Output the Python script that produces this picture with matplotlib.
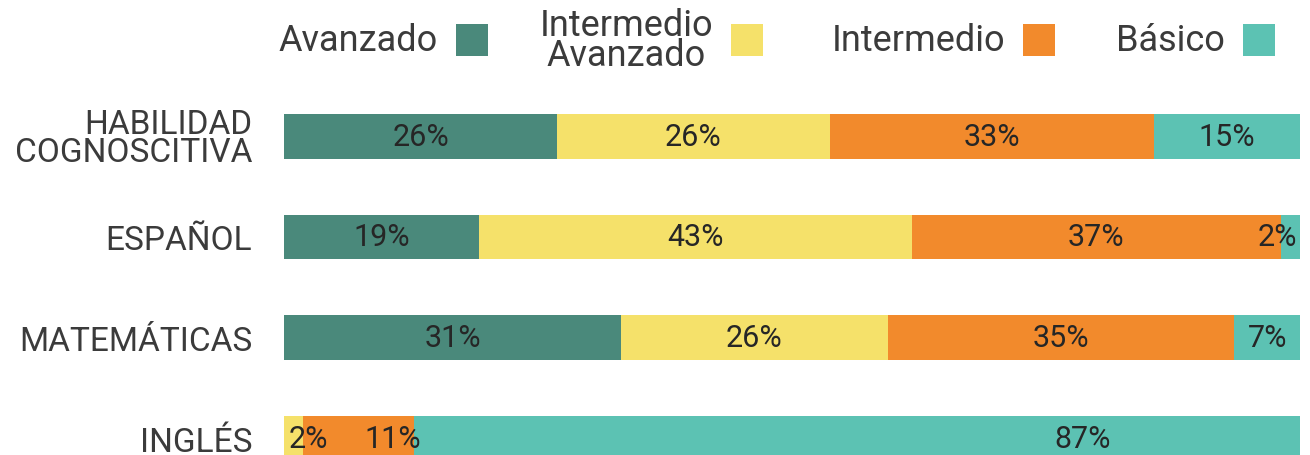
"""
Stacked horizontal bars: nivel de desempeño por área.
"""
import matplotlib
matplotlib.use("Agg")
import matplotlib.pyplot as plt
from matplotlib.patches import Rectangle
import numpy as np

plt.rcParams["font.family"] = ["Roboto", "DejaVu Sans"]

# ── data ──────────────────────────────────────────────────────────────────────
CATEGORIES = ["HABILIDAD\nCOGNOSCITIVA", "ESPAÑOL", "MATEMÁTICAS", "INGLÉS"]
LEVELS     = ["Avanzado", "Intermedio\nAvanzado", "Intermedio", "Básico"]
COLORS     = ["#4A897B", "#F5E16A", "#F28A2C", "#5CC2B3"]

# segment widths (% of bar) per level, one entry per category
avanzado      = [26.9, 19.2, 33.2, 0.0]
inter_avanz   = [26.8, 42.6, 26.2, 1.9]
intermedio    = [31.9, 36.3, 34.1, 10.9]
basico        = [14.4, 1.9, 6.6, 87.2]

# printed labels (as they appear on the chart)
lbl_avanzado    = ["26%", "19%", "31%", ""]
lbl_inter_avanz = ["26%", "43%", "26%", "2%"]
lbl_intermedio  = ["33%", "37%", "35%", "11%"]
lbl_basico      = ["15%", "2%", "7%", "87%"]

SERIES = [avanzado, inter_avanz, intermedio, basico]
LABELS = [lbl_avanzado, lbl_inter_avanz, lbl_intermedio, lbl_basico]

TEXT_COLOR  = "#3b3b3b"
VALUE_COLOR = "#262626"

# ── figure ────────────────────────────────────────────────────────────────────
W, H = 1310, 456
fig = plt.figure(figsize=(W / 100, H / 100), dpi=100)
ax = fig.add_axes([284 / W, 0.0, (1300 - 284) / W, 1 - 100 / H])

y = np.arange(len(CATEGORIES))
left = np.zeros(len(CATEGORIES))
for vals, lbls, color in zip(SERIES, LABELS, COLORS):
    vals = np.array(vals)
    ax.barh(y, vals, left=left, height=0.438, color=color, linewidth=0)
    for i, (v, lab) in enumerate(zip(vals, lbls)):
        if not lab:
            continue
        cx = left[i] + v / 2
        ha = "center"
        dx = 0
        if v < 5:
            # narrow segment: keep the label inside the plot area
            if left[i] + v > 98:
                cx, ha, dx = 100, "right", -3
            else:
                cx, ha, dx = left[i], "left", 5
        elif i == 3 and v < 20:
            dx = 34
        elif i == 3:
            dx = 226
        ax.annotate(lab, (cx, y[i]), xytext=(dx, 0), textcoords="offset pixels",
                    ha=ha, va="center", fontsize=22, color=VALUE_COLOR)
    left += vals

ax.set_xlim(0, 100)
ax.set_ylim(3.169, -0.373)
ax.set_yticks(y)
ax.set_yticklabels(CATEGORIES, fontsize=24, color=TEXT_COLOR, linespacing=0.85)
ax.tick_params(axis="y", length=0, pad=23)
ax.set_xticks([])
for s in ax.spines.values():
    s.set_visible(False)

# ── legend (text to the left of each swatch) ─────────────────────────────────
legend_swatch_x = [456, 731, 1023, 1243]
for name, color, sx in zip(LEVELS, COLORS, legend_swatch_x):
    fig.text((sx - 18) / W, 1 - 41 / H, name, ha="right", va="center",
             fontsize=26, color=TEXT_COLOR, multialignment="center",
             linespacing=0.8)
    fig.patches.append(Rectangle((sx / W, 1 - 57 / H), 32 / W, 32 / H,
                                 transform=fig.transFigure, color=color,
                                 linewidth=0))

fig.savefig("out.png", dpi=100)
